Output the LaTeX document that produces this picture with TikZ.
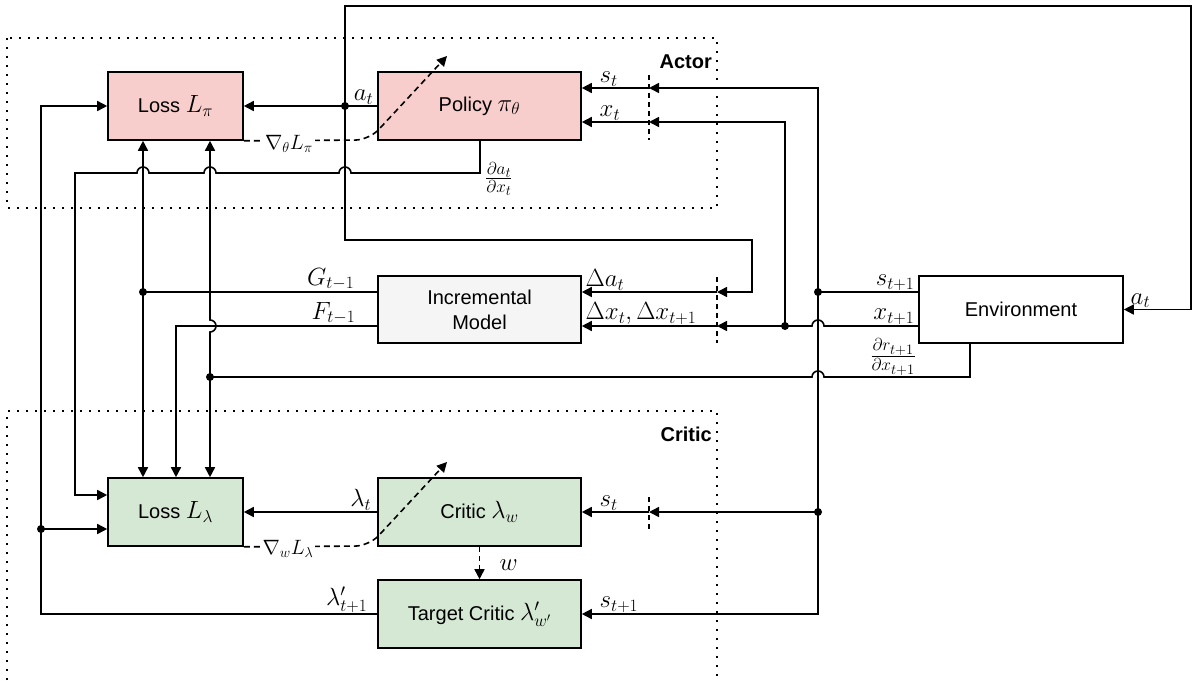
\documentclass[tikz,border=0pt]{standalone}
\usepackage{fontspec}
\setmainfont{Liberation Sans}
\usetikzlibrary{arrows.meta,calc}
\definecolor{actorfill}{HTML}{F8CECC}
\definecolor{criticfill}{HTML}{D5E8D4}
\definecolor{modelfill}{HTML}{F5F5F5}
% math inside block captions, set a little larger than the sans text
\newcommand{\bxm}[1]{{\fontsize{23}{25}\selectfont$#1$}}
\begin{document}
\begin{tikzpicture}[x=1pt,y=1pt,
  box/.style={draw=black, line width=1.6pt, minimum width=203pt, minimum height=68pt,
    inner sep=0pt, align=center, font=\fontsize{20}{25}\selectfont},
  lossbox/.style={box, minimum width=135pt},
  wire/.style={line width=1.6pt},
  arr/.style={wire, -{Triangle[length=10pt,width=10pt]}},
  arrboth/.style={wire, {Triangle[length=10pt,width=10pt]}-{Triangle[length=10pt,width=10pt]}},
  cutmark/.style={line width=1.6pt, dash pattern=on 5pt off 4pt},
  grad/.style={line width=1.6pt, dash pattern=on 6pt off 4pt, rounded corners=14pt,
    -{Triangle[length=10pt,width=10pt]}},
  lbl/.style={inner sep=1.5pt, font=\fontsize{25}{27}\selectfont},
  gradlbl/.style={inner sep=2pt, fill=white, font=\fontsize{22}{24}\selectfont},
  fraclbl/.style={inner sep=1pt, font=\fontsize{27}{29}\selectfont},
  zone/.style={line width=2pt, dash pattern=on 2pt off 7pt},
  zonetitle/.style={inner sep=0pt, font=\bfseries\fontsize{20}{24}\selectfont},
  dot/.style={circle, fill=black, inner sep=0pt, minimum size=8pt}
]
\useasboundingbox (0,0) rectangle (1198,-680);

% grouping frames
\draw[zone] (7,-38) rectangle (717,-208);
\draw[zone] (7,-680) -- (7,-411) -- (717,-411) -- (717,-680);
\node[zonetitle, anchor=east] (actortitle) at (712,-62) {Actor};
\node[zonetitle, anchor=east] (critictitle) at (712,-434) {Critic};

% blocks
\node[lossbox, fill=actorfill] (lpi) at (175.5,-106) {Loss \bxm{L_\pi}};
\node[box, fill=actorfill] (pol) at (479.5,-106) {Policy \bxm{\pi_\theta}};
\node[box, fill=modelfill, minimum height=67pt] (inc) at (479.5,-309.5) {Incremental\\Model};
\node[box, fill=white, minimum width=204pt, minimum height=67pt] (env) at (1021,-309.5) {Environment};
\node[lossbox, fill=criticfill] (llam) at (175.5,-512) {Loss \bxm{L_\lambda}};
\node[box, fill=criticfill] (crit) at (479.5,-512) {Critic \bxm{\lambda_w}};
\node[box, fill=criticfill] (tcrit) at (479.5,-614) {Target Critic \bxm{\lambda'_{w'}}};

% junctions, bends and sampling marks
\coordinate (jA) at (345,-106);
\coordinate (jG) at (143,-292);
\coordinate (jR) at (210,-377);
\coordinate (jL) at (41,-529);
\coordinate (jS) at (818,-292);
\coordinate (jC) at (818,-512);
\coordinate (jX) at (785,-326);
\coordinate (fX) at (176,-326);
\coordinate (aX) at (480,-173);
\coordinate (rX) at (970,-377);
\coordinate (cutPs) at (649,-88);
\coordinate (cutPx) at (649,-122);
\coordinate (cutA) at (717,-292);
\coordinate (cutX) at (717,-326);
\coordinate (cutC) at (649,-512);

\draw[cutmark] (649,-75) -- (649,-140);
\draw[cutmark] (717,-277) -- (717,-343);
\draw[cutmark] (649,-497) -- (649,-529);

% action a_t
\draw[arr] (pol.west) -- (lpi.east);
\draw[arr] (jA) -- (345,-6) -- (1191,-6) |- (env.east);
\draw[arr] (jA) -- (345,-240) -| (752,-292) -- (cutA);
\draw[arr] (cutA) -- (inc.east |- cutA);

% state and measurement feedback
\draw[wire] (env.west |- jS) -- (jS);
\draw[arr] (jS) -- (818,-88) -- (cutPs);
\draw[arr] (cutPs) -- (pol.east |- cutPs);
\draw[arr] (jS) |- (tcrit.east);
\draw[arr] (jC) -- (cutC);
\draw[arr] (cutC) -- (crit.east);
\draw[wire] (env.west |- jX) -- (824,-326) arc[start angle=0, end angle=180, radius=6pt] -- (jX);
\draw[arr] (jX) -- (cutX);
\draw[arr] (cutX) -- (inc.east |- cutX);
\draw[arr] (jX) -- (785,-122) -- (cutPx);
\draw[arr] (cutPx) -- (pol.east |- cutPx);

% reward gradient
\draw[wire] (env.south -| rX) -- (rX) -- (824,-377) arc[start angle=0, end angle=180, radius=6pt] -- (jR);

% policy Jacobian
\draw[arr] (pol.south -| aX) -- (aX) -- (351,-173)
  arc[start angle=0, end angle=180, radius=6pt] -- (216,-173)
  arc[start angle=0, end angle=180, radius=6pt] -- (149,-173)
  arc[start angle=0, end angle=180, radius=6pt] -- (75,-173)
  |- ($(llam.west)+(0,17)$);

% model outputs
\draw[wire] (inc.west |- jG) -- (jG);
\draw[arrboth] (lpi.south -| jG) -- (llam.north -| jG);
\draw[arrboth] (lpi.south -| jR) -- (210,-320) arc[start angle=90, end angle=-90, radius=6pt] -- (llam.north -| jR);
\draw[arr] (inc.west |- fX) -- (fX) -- (llam.north -| fX);

% critic outputs
\draw[arr] (crit.west) -- (llam.east);
\draw[arr] (tcrit.west) -| (lpi.west -| jL) -- (lpi.west);
\draw[arr] (jL) -- ($(llam.west)+(0,-17)$);
\draw[wire, dash pattern=on 5pt off 4pt, -{Triangle[length=10pt,width=10pt]}] (crit.south) -- (tcrit.north);

% parameter updates
\draw[grad] (lpi.south east) -- (369,-140) -- (447,-56);
\draw[grad] (llam.south east) -- (369,-546) -- (447,-462);
\node[gradlbl] (gpi) at (289,-144) {$\nabla_\theta L_\pi$};
\node[gradlbl] (glam) at (288,-549) {$\nabla_w L_\lambda$};

% junction dots
\foreach \j in {jA,jG,jR,jL,jS,jC,jX} \node[dot] (d\j) at (\j) {};

% signal labels
\node[lbl, anchor=south east] (la1) at (375,-106) {$a_t$};
\node[lbl, anchor=south west] (ls1) at (598,-88) {$s_t$};
\node[lbl, anchor=south west] (lx1) at (598,-122) {$x_t$};
\node[fraclbl, anchor=west] (lda) at (484,-179) {$\frac{\partial a_t}{\partial x_t}$};
\node[lbl, anchor=south west] (lDa) at (584,-292) {$\Delta a_t$};
\node[lbl, anchor=south west] (lDx) at (584,-326) {$\Delta x_t, \Delta x_{t+1}$};
\node[lbl, anchor=south east] (lG) at (356,-292) {$G_{t-1}$};
\node[lbl, anchor=south east] (lF) at (357,-326) {$F_{t-1}$};
\node[lbl, anchor=south east] (ls2) at (916,-292) {$s_{t+1}$};
\node[lbl, anchor=south east] (lx2) at (916,-326) {$x_{t+1}$};
\node[fraclbl, anchor=east] (ldr) at (917,-357) {$\frac{\partial r_{t+1}}{\partial x_{t+1}}$};
\node[lbl, anchor=south west] (la2) at (1129,-309.5) {$a_t$};
\node[lbl, anchor=south east] (llt) at (373,-512) {$\lambda_t$};
\node[lbl, anchor=south west] (ls3) at (598,-512) {$s_t$};
\node[lbl, anchor=west] (lw) at (498,-565) {$w$};
\node[lbl, anchor=south west] (ls4) at (598,-614) {$s_{t+1}$};
\node[lbl, anchor=south east] (llp) at (369,-614) {$\lambda'_{t+1}$};
\end{tikzpicture}
\end{document}
